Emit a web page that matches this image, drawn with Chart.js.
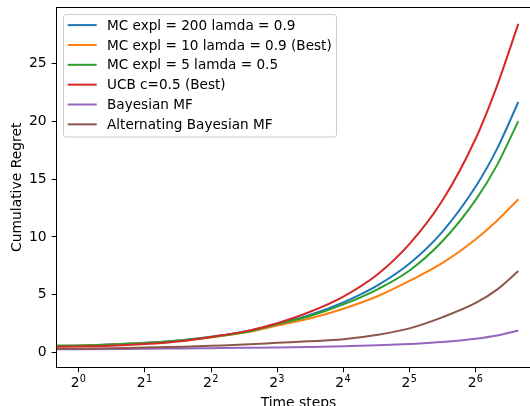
<!DOCTYPE html>
<html><head><meta charset="utf-8">
<script src="https://cdn.jsdelivr.net/npm/chart.js@4.4.0/dist/chart.umd.min.js"></script>
<style>
html,body{margin:0;padding:0;overflow:hidden;background:#fff;width:530px;height:406px}
#wrap{position:absolute;left:0;top:0;width:541px;height:406px}
</style>
</head><body><div id="wrap"><canvas id="c" width="541" height="406"></canvas></div>
<script>
// ---- data ----
const timeSteps = [0.7945, 1, 2, 3, 4, 6, 8, 11, 16, 23, 32, 45, 64, 80, 100];
const mcExpl200 = [0.60, 0.62, 0.85, 1.10, 1.38, 1.90, 2.50, 3.20, 4.35, 5.84, 7.70, 10.42, 14.35, 17.60, 21.65];
const mcExpl10  = [0.59, 0.60, 0.83, 1.06, 1.32, 1.80, 2.35, 2.91, 3.80, 4.90, 6.20, 7.73, 9.80, 11.40, 13.25];
const mcExpl5   = [0.60, 0.61, 0.84, 1.08, 1.35, 1.85, 2.45, 3.10, 4.17, 5.50, 7.10, 9.60, 13.20, 16.20, 20.00];
const ucb       = [0.52, 0.53, 0.75, 1.02, 1.35, 1.93, 2.55, 3.45, 4.85, 6.80, 9.40, 13.10, 18.50, 23.05, 28.40];
const bayesMF   = [0.30, 0.30, 0.34, 0.37, 0.39, 0.42, 0.45, 0.49, 0.55, 0.64, 0.76, 0.92, 1.20, 1.48, 1.92];
const altBayesMF= [0.33, 0.34, 0.45, 0.52, 0.60, 0.72, 0.85, 0.98, 1.17, 1.55, 2.10, 3.05, 4.30, 5.45, 7.05];

const seriesLabels = [
  'MC expl = 200 lamda = 0.9',
  'MC expl = 10 lamda = 0.9 (Best)',
  'MC expl = 5 lamda = 0.5',
  'UCB c=0.5 (Best)',
  'Bayesian MF',
  'Alternating Bayesian MF'
];
const seriesValues = [mcExpl200, mcExpl10, mcExpl5, ucb, bayesMF, altBayesMF];
const seriesColors = ['#1f77b4', '#ff7f0e', '#2ca02c', '#d62728', '#9467bd', '#8c564b'];

const xTickValues = [1, 2, 4, 8, 16, 32, 64];
const xTickBase = '2';
const xTickExponents = ['0', '1', '2', '3', '4', '5', '6'];
const yTickValues = [0, 5, 10, 15, 20, 25];

const FAMILY = "'DejaVu Sans', sans-serif";
const FONT = {family: FAMILY, size: 13.9};

const datasets = seriesLabels.map((label, i) => ({
  label,
  data: seriesValues[i].map((v, j) => ({x: timeSteps[j], y: v})),
  borderColor: seriesColors[i],
  backgroundColor: seriesColors[i],
  borderWidth: 2,
  pointRadius: 0,
  fill: false,
  cubicInterpolationMode: 'monotone',
  order: seriesLabels.length - i
}));

const mplPlugin = {
  id: 'mpl',
  afterDraw(chart) {
    const ctx = chart.ctx, a = chart.chartArea;
    ctx.save();
    // top spine
    ctx.strokeStyle = '#000';
    ctx.lineWidth = 1;
    ctx.beginPath();
    ctx.moveTo(a.left - 0.5, Math.round(a.top) + 0.5);
    ctx.lineTo(a.right + 1, Math.round(a.top) + 0.5);
    ctx.stroke();
    // x tick labels as 2^n (mathtext-like superscript)
    const xs = chart.scales.x;
    ctx.fillStyle = '#000';
    ctx.textBaseline = 'alphabetic';
    ctx.textAlign = 'left';
    xTickValues.forEach((v, i) => {
      const px = xs.getPixelForValue(v);
      ctx.font = '13.9px ' + FAMILY;
      const w1 = ctx.measureText(xTickBase).width;
      ctx.font = '9.7px ' + FAMILY;
      const w2 = ctx.measureText(xTickExponents[i]).width;
      const sx = px - (w1 + w2) / 2 - 0.5;
      ctx.font = '13.9px ' + FAMILY;
      ctx.fillText(xTickBase, sx, a.bottom + 19.4);
      ctx.font = '9.7px ' + FAMILY;
      ctx.fillText(xTickExponents[i], sx + w1 + 0.3, a.bottom + 14.4);
    });
    // legend
    const x0 = a.left + 7, y0 = a.top + 7, w = 273, h = 122.5, r = 2.8;
    const bx = Math.floor(x0) + 0.5, by = Math.floor(y0) + 0.5;
    ctx.beginPath();
    ctx.moveTo(bx + r, by);
    ctx.lineTo(bx + w - r, by);
    ctx.arcTo(bx + w, by, bx + w, by + r, r);
    ctx.lineTo(bx + w, by + h - r);
    ctx.arcTo(bx + w, by + h, bx + w - r, by + h, r);
    ctx.lineTo(bx + r, by + h);
    ctx.arcTo(bx, by + h, bx, by + h - r, r);
    ctx.lineTo(bx, by + r);
    ctx.arcTo(bx, by, bx + r, by, r);
    ctx.closePath();
    ctx.fillStyle = 'rgba(255,255,255,0.8)';
    ctx.fill();
    ctx.strokeStyle = '#cccccc';
    ctx.lineWidth = 1;
    ctx.stroke();
    ctx.font = '13.6px ' + FAMILY;
    chart.data.datasets.forEach((ds, i) => {
      const cy = y0 + 10.8 + i * 19.85;
      ctx.strokeStyle = ds.borderColor;
      ctx.lineWidth = 2;
      ctx.beginPath();
      ctx.moveTo(x0 + 4, cy);
      ctx.lineTo(x0 + 33, cy);
      ctx.stroke();
      ctx.fillStyle = '#000';
      ctx.fillText(ds.label, x0 + 43.3, cy + 4.6);
    });
    ctx.restore();
  }
};

new Chart(document.getElementById('c'), {
  type: 'line',
  data: {datasets},
  plugins: [mplPlugin],
  options: {
    responsive: false,
    animation: false,
    devicePixelRatio: 1,
    layout: {padding: {top: 7.3, right: 0.7, bottom: 0, left: 0}},
    plugins: {legend: {display: false}, tooltip: {enabled: false}},
    scales: {
      x: {
        type: 'logarithmic',
        min: Math.pow(2, -0.332),
        max: Math.pow(2, 6.976),
        afterBuildTicks: s => { s.ticks = xTickValues.map(v => ({value: v})); },
        afterFit: s => { s.height = 38.7; s.paddingLeft = 0; s.paddingRight = 0; s.paddingTop = 0; s.paddingBottom = 0; },
        ticks: {display: false},
        grid: {display: true, drawOnChartArea: false, drawTicks: true, tickLength: 5, color: '#000', lineWidth: 1},
        border: {display: true, color: '#000', width: 1},
        title: {display: true, text: 'Time steps', font: FONT, color: '#000', padding: {top: 0, bottom: -6}}
      },
      y: {
        type: 'linear',
        min: -1.26,
        max: 29.83,
        afterBuildTicks: s => { s.ticks = yTickValues.map(v => ({value: v})); },
        afterFit: s => { s.width = 56.7; s.paddingTop = 0; s.paddingBottom = 0; s.paddingLeft = 0; s.paddingRight = 0; },
        ticks: {font: FONT, color: '#000', padding: 5},
        grid: {display: true, drawOnChartArea: false, drawTicks: true, tickLength: 5, color: '#000', lineWidth: 1},
        border: {display: true, color: '#000', width: 1},
        title: {display: true, text: 'Cumulative Regret', font: FONT, color: '#000', padding: {top: 9, bottom: 0}}
      }
    }
  }
});
</script>
</body></html>
